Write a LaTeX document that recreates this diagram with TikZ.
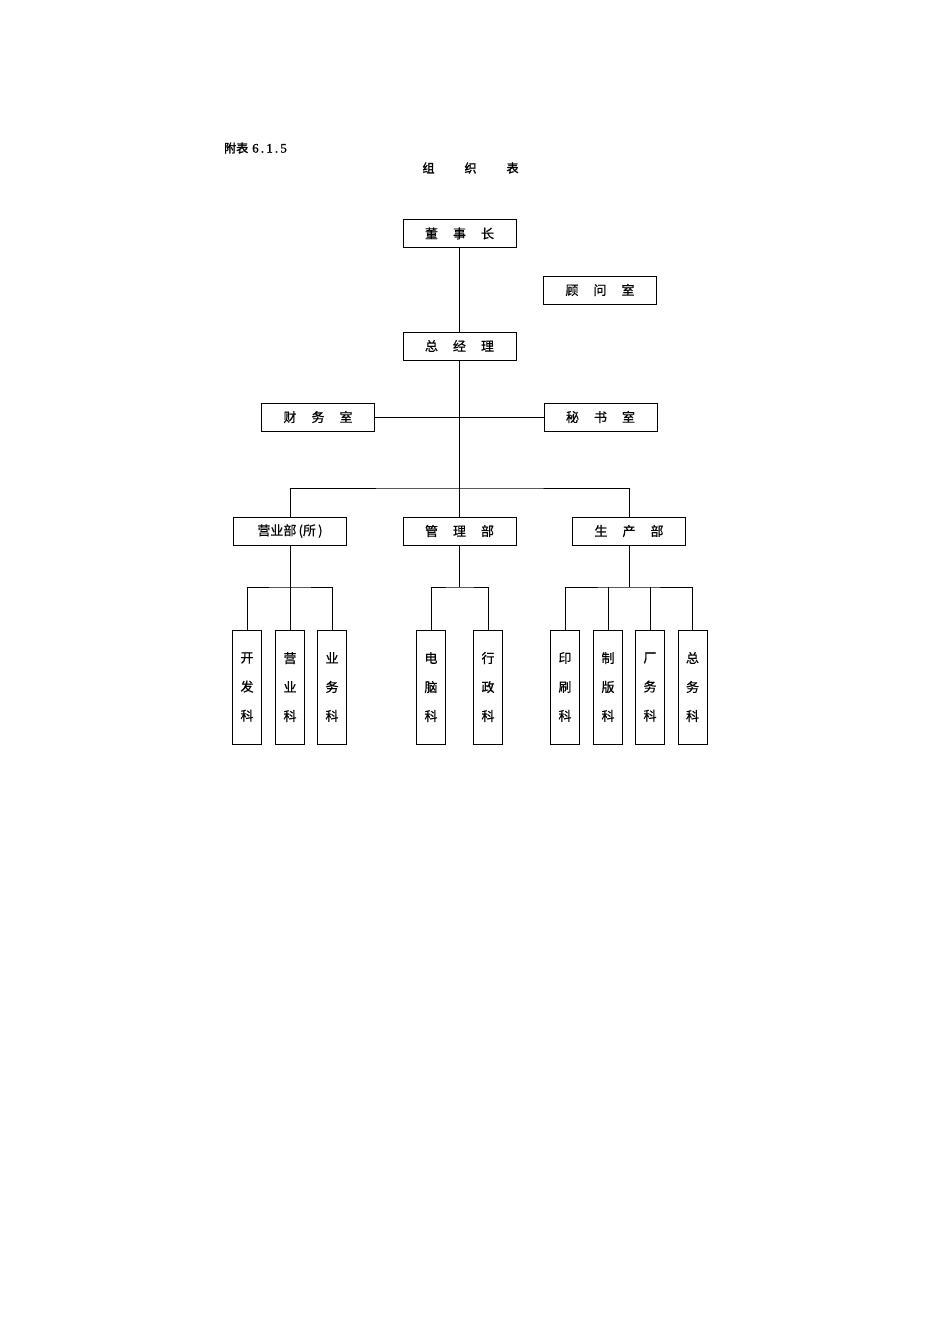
\documentclass[tikz,border=0pt]{standalone}
\usepackage{fontspec}
\newfontfamily\cjk[FakeBold=0.6]{Noto Sans CJK SC}
\newfontfamily\cjkb[FakeBold=1.8]{Noto Sans CJK SC}
\newfontfamily\numb{Liberation Serif}[FakeBold=1]
\newcommand{\csp}{\hspace{15pt}}
\begin{document}
\begin{tikzpicture}[x=1pt,y=-1pt,
  hbox/.style={draw, line width=0.9pt, minimum width=113pt, minimum height=28pt, inner sep=0pt, font=\cjk\fontsize{13}{13}\selectfont},
  vbox/.style={draw, line width=0.9pt, minimum width=29pt, minimum height=114pt, inner sep=0pt, align=center, font=\cjk\fontsize{13}{29}\selectfont},
  conn/.style={line width=0.9pt}]
\useasboundingbox[fill=white] (0,0) rectangle (950,1344);
% titles
\node[anchor=west, inner sep=0pt, font=\cjkb\fontsize{12}{12}\selectfont] (t1) at (224,148) {附表\hspace{4pt}{\numb\fontsize{13}{13}\selectfont 6\,.\,1\,.\,5}};
\node[inner sep=0pt, font=\cjkb\fontsize{12}{12}\selectfont] (t2) at (470.5,168) {组\hspace{30pt}织\hspace{30pt}表};
% top boxes
\node[hbox] (dsz) at (459.5,233.5) {董\csp 事\csp 长};
\node[hbox] (gws) at (600,290) {顾\csp 问\csp 室};
\node[hbox] (zjl) at (459.5,346) {总\csp 经\csp 理};
\node[hbox] (cw) at (318,417) {财\csp 务\csp 室};
\node[hbox] (ms) at (600.5,417) {秘\csp 书\csp 室};
\node[hbox] (yyb) at (290,531) {营业部\,(所\,)};
\node[hbox] (glb) at (459.5,531) {管\csp 理\csp 部};
\node[hbox] (scb) at (629,531) {生\csp 产\csp 部};
% section boxes
\node[vbox] (k1) at (247,687) {开\\发\\科};
\node[vbox] (k2) at (290,687) {营\\业\\科};
\node[vbox] (k3) at (332,687) {业\\务\\科};
\node[vbox] (k4) at (431,687) {电\\脑\\科};
\node[vbox] (k5) at (488,687) {行\\政\\科};
\node[vbox] (k6) at (565,687) {印\\刷\\科};
\node[vbox] (k7) at (608,687) {制\\版\\科};
\node[vbox] (k8) at (650,687) {厂\\务\\科};
\node[vbox] (k9) at (692.5,687) {总\\务\\科};
% bus coordinates
\coordinate (bus) at (459.5,488);
\coordinate (b1) at (290,587);
\coordinate (b2) at (459.5,587);
\coordinate (b3) at (629,587);
% connectors
\draw[conn] (dsz.south) -- (zjl.north);
\draw[conn] (zjl.south) -- (glb.north);
\draw[conn] (cw.east) -- (ms.west);
\draw[conn] (yyb.north) |- (bus) -| (scb.north);
\draw[conn] (yyb.south) -- (k2.north);
\draw[conn] (k1.north) |- (b1) -| (k3.north);
\draw[conn] (glb.south) -- (b2);
\draw[conn] (k4.north) |- (b2) -| (k5.north);
\draw[conn] (scb.south) -- (b3);
\draw[conn] (k6.north) |- (b3) -| (k9.north);
\draw[conn] (k7.north) -- (k7.north |- b3);
\draw[conn] (k8.north) -- (k8.north |- b3);
\end{tikzpicture}
\end{document}
